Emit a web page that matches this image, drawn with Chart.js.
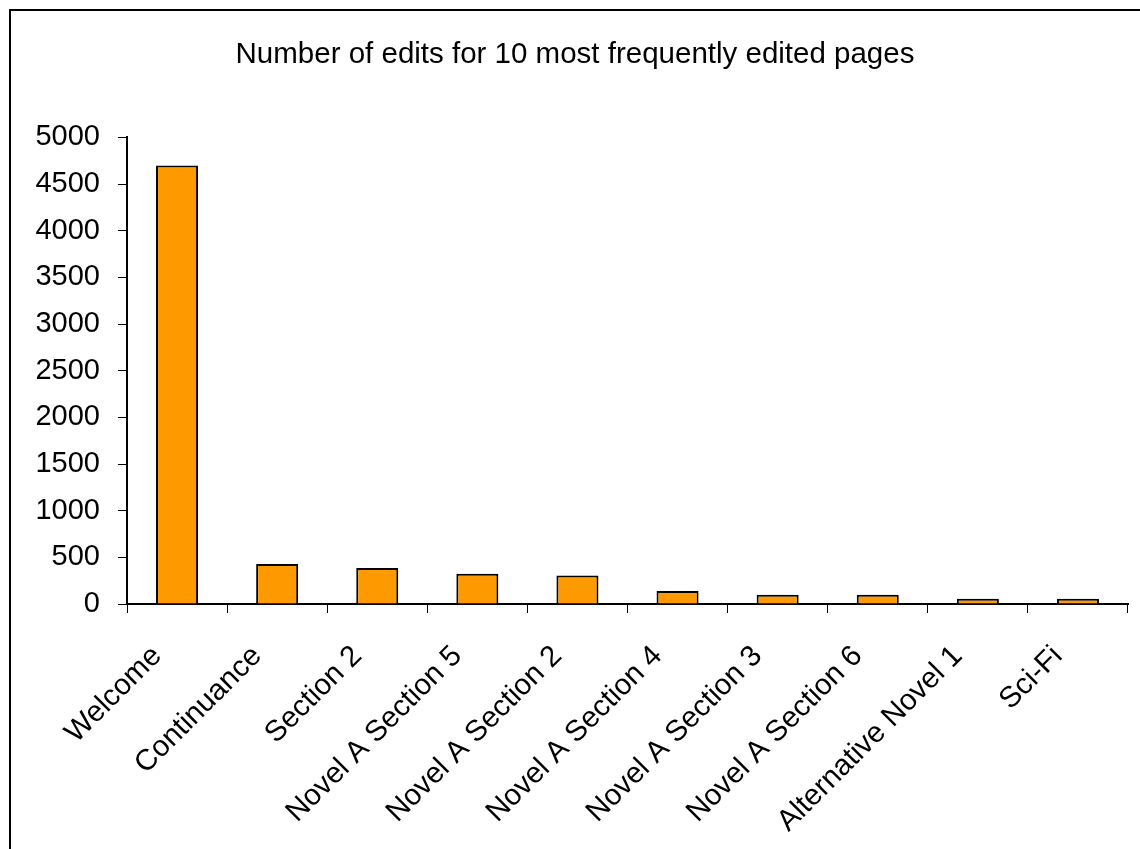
<!DOCTYPE html>
<html>
<head>
<meta charset="utf-8">
<script src="https://cdn.jsdelivr.net/npm/chart.js@4"></script>
<style>
    html, body { margin: 0; padding: 0; background: #ffffff; }
    #editsChart { display: block; }
</style>
</head>
<body>
<canvas id="editsChart" width="1140" height="849"></canvas>
<script>
const pages = ['Welcome', 'Continuance', 'Section 2', 'Novel A Section 5', 'Novel A Section 2',
    'Novel A Section 4', 'Novel A Section 3', 'Novel A Section 6', 'Alternative Novel 1', 'Sci-Fi'];
const edits = [4700, 428, 385, 325, 305, 140, 100, 100, 57, 57];
const yTicks = [0, 500, 1000, 1500, 2000, 2500, 3000, 3500, 4000, 4500, 5000];

const fontFamily = '"Liberation Sans", Arial, sans-serif';

// outer frame, as in the spreadsheet chart object
const framePlugin = {
    id: 'frame',
    beforeDraw(chart) {
        const ctx = chart.ctx;
        ctx.save();
        ctx.fillStyle = '#ffffff';
        ctx.fillRect(0, 0, chart.width, chart.height);
        ctx.strokeStyle = '#000000';
        ctx.lineWidth = 2;
        ctx.strokeRect(10, 10, chart.width + 20, chart.height + 20);
        ctx.restore();
    }
};

document.addEventListener('DOMContentLoaded', () => {
    const ctx = document.getElementById('editsChart').getContext('2d');
    new Chart(ctx, {
        type: 'bar',
        data: {
            labels: pages,
            datasets: [{
                data: edits,
                backgroundColor: '#FF9900',
                borderColor: '#000000',
                borderWidth: 2,
                categoryPercentage: 1,
                barPercentage: 0.42
            }]
        },
        options: {
            responsive: false,
            devicePixelRatio: 1,
            animation: false,
            layout: { padding: { left: 22, right: 12, top: 0, bottom: 0 } },
            plugins: {
                legend: { display: false },
                tooltip: { enabled: false },
                title: {
                    display: true,
                    text: 'Number of edits for 10 most frequently edited pages',
                    color: '#000000',
                    font: { family: fontFamily, size: 29.5, weight: 'normal' },
                    padding: { top: 37, bottom: 65 }
                }
            },
            scales: {
                x: {
                    offset: true,
                    grid: {
                        offset: true,
                        drawOnChartArea: false,
                        drawTicks: true,
                        tickLength: 9,
                        color: '#000000'
                    },
                    border: { display: true, color: '#000000', width: 2 },
                    ticks: {
                        color: '#000000',
                        font: { family: fontFamily, size: 29.5 },
                        minRotation: 45,
                        maxRotation: 45,
                        autoSkip: false,
                        labelOffset: -20,
                        padding: 26
                    },
                    afterFit(scale) { scale.height = 245; }
                },
                y: {
                    min: 0,
                    max: 5000,
                    afterBuildTicks(scale) {
                        scale.ticks = yTicks.map(v => ({ value: v }));
                    },
                    grid: {
                        drawOnChartArea: false,
                        drawTicks: true,
                        tickLength: 9,
                        color: '#000000'
                    },
                    border: { display: true, color: '#000000', width: 2 },
                    ticks: {
                        color: '#000000',
                        font: { family: fontFamily, size: 29 },
                        padding: 18,
                        callback: value => String(value)
                    },
                    afterFit(scale) { scale.width = 105; }
                }
            }
        },
        plugins: [framePlugin]
    });
});
</script>
</body>
</html>
